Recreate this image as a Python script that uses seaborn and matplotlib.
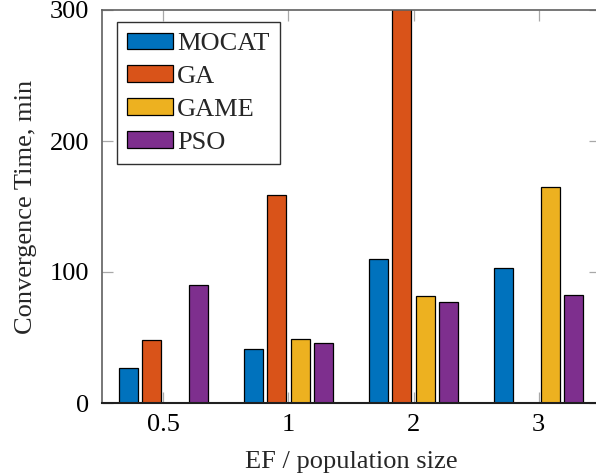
import matplotlib
matplotlib.use("Agg")
import matplotlib.pyplot as plt
import seaborn as sns
import pandas as pd
import numpy as np

# Data: convergence time (minutes) per method and EF / population size
ef_labels = ["0.5", "1", "2", "3"]
methods = ["MOCAT", "GA", "GAME", "PSO"]
mocat = [26.5, 41, 110, 103]
ga = [48, 158.5, 320, np.nan]
game = [np.nan, 49, 82, 165]
pso = [90, 46, 77, 82.5]
colors = ["#0072BD", "#D95319", "#EDB120", "#7E2F8E"]

rows = []
for name, vals in zip(methods, [mocat, ga, game, pso]):
    for ef, v in zip(ef_labels, vals):
        if not np.isnan(v):
            rows.append({"EF": ef, "Method": name, "Time": v})
df = pd.DataFrame(rows)

sns.set_theme(style="white")
plt.rcParams["font.family"] = ["Liberation Serif", "DejaVu Serif"]

FS = 19

fig = plt.figure(figsize=(5.96, 4.76), dpi=100)
W, H = 596, 476
ax = fig.add_axes([102 / W, (H - 403) / H, (600 - 102) / W, 393 / H])

sns.barplot(
    data=df, x="EF", y="Time", hue="Method",
    order=ef_labels, hue_order=methods, palette=colors,
    width=0.75, gap=0.2, edgecolor="black", linewidth=0.9,
    saturation=1, ax=ax, legend=True, errorbar=None,
)

ax.set_xlim(-0.49, 3.49)
ax.set_ylim(0, 300)
ax.set_yticks([0, 100, 200, 300])
ax.set_xlabel("EF / population size", fontsize=FS, labelpad=10.5)
ax.set_ylabel("Convergence Time, min", fontsize=FS, labelpad=9)

for side in ["left", "top", "right"]:
    ax.spines[side].set_color("#606060")
    ax.spines[side].set_linewidth(1.2)
ax.spines["bottom"].set_color("#202020")
ax.spines["bottom"].set_linewidth(1.5)

ax.tick_params(axis="both", which="major", direction="in", length=8,
               width=0.9, color="#a8a8a8", labelsize=FS, pad=9,
               top=True, right=True, bottom=True, left=True,
               labelcolor="black")
ax.tick_params(axis="x", pad=8)

leg = ax.legend(
    loc="upper left", bbox_to_anchor=(0.030, 0.969), borderaxespad=0,
    fontsize=FS, frameon=True, fancybox=False, framealpha=1,
    edgecolor="#303030", handlelength=1.74, handleheight=0.6,
    handletextpad=0.15, labelspacing=0.38, borderpad=0.4,
)
leg.get_frame().set_linewidth(1.0)

fig.savefig("out.png", dpi=100)
